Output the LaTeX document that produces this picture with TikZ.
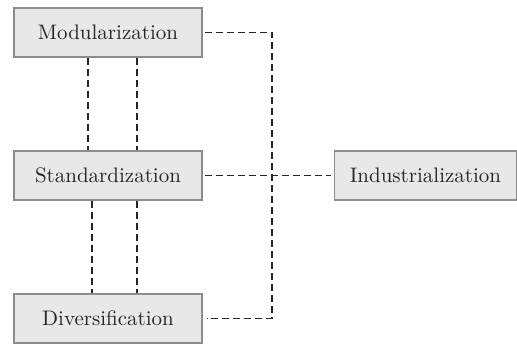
\documentclass[tikz,border=0pt]{standalone}
\usepackage{tikz}
\usetikzlibrary{positioning}

\begin{document}
\begin{tikzpicture}
  [x=0.5pt, y=-0.5pt,
   stage/.style={rectangle, draw=black!45, fill=black!9, line width=0.6pt,
                 minimum width=94pt, minimum height=24.5pt, inner sep=0pt,
                 text=black!85, font=\fontsize{10.5}{12}\selectfont},
   link/.style={draw=black!85, line width=0.6pt, dash pattern=on 3.5pt off 2pt}]

  \useasboundingbox (0,0) rectangle (517,345);

  \node[stage] (mod) at (108,32.5) {Modularization};
  \node[stage] (std) at (108,175.5) {Standardization};
  \node[stage] (div) at (108,318.5) {Diversification};
  \node[stage, minimum width=91pt] (ind) at (425.5,175.5) {Industrialization};

  \coordinate (bus) at (272,0);

  \draw[link] ([xshift=-10pt]mod.south) -- ([xshift=-10pt]mod.south |- std.north);
  \draw[link] ([xshift=14.5pt]mod.south) -- ([xshift=14.5pt]mod.south |- std.north);
  \draw[link] ([xshift=-8pt]std.south) -- ([xshift=-8pt]std.south |- div.north);
  \draw[link] ([xshift=14.5pt]std.south) -- ([xshift=14.5pt]std.south |- div.north);

  \draw[link, shorten <=1pt] (mod.east) -- (mod.east -| bus) -- (div.east -| bus)
    -- ([xshift=2pt]div.east);
  \draw[link, shorten <=1pt, shorten >=1.5pt] (std.east) -- (ind.west);
\end{tikzpicture}
\end{document}
